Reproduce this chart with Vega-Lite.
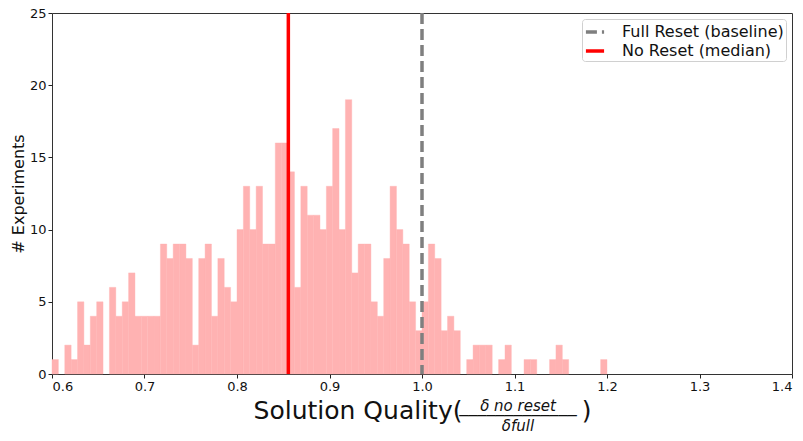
{
  "$schema": "https://vega.github.io/schema/vega-lite/v6.json",
  "width": 740,
  "height": 361,
  "autosize": {"type": "none"},
  "padding": {"left": 52, "top": 13, "right": 11, "bottom": 67},
  "background": "white",
  "config": {
    "font": "DejaVu Sans",
    "view": {"stroke": "#333333", "strokeWidth": 1},
    "axis": {
      "domain": false,
      "grid": false,
      "tickColor": "#222222",
      "tickSize": 4,
      "tickWidth": 1,
      "labelColor": "#111111",
      "labelFont": "DejaVu Sans",
      "labelFontSize": 13,
      "labelPadding": 2,
      "titleFont": "DejaVu Sans",
      "titleColor": "#111111",
      "titleFontWeight": "normal"
    },
    "legend": {
      "orient": "top-right",
      "offset": 6,
      "padding": 2,
      "strokeColor": "#d0d0d0",
      "fillColor": "white",
      "cornerRadius": 3,
      "labelFont": "DejaVu Sans",
      "labelFontSize": 16,
      "labelColor": "#111111",
      "labelOffset": 16,
      "labelLimit": 400,
      "symbolType": "stroke",
      "symbolSize": 330,
      "symbolStrokeWidth": 3.5,
      "rowPadding": 0
    },
    "title": {"font": "DejaVu Sans"}
  },
  "title": {
    "text": ["δ no reset", "─────────────", "δfull"],
    "orient": "bottom",
    "frame": "group",
    "anchor": "middle",
    "fontSize": 15,
    "fontStyle": "italic",
    "fontWeight": "normal",
    "color": "#111111",
    "lineHeight": 10,
    "offset": -24,
    "dx": 96
  },
  "datasets": {
    "bins": [
      {"x0": 0.6, "x1": 0.6069, "count": 1},
      {"x0": 0.6138, "x1": 0.6207, "count": 2},
      {"x0": 0.6207, "x1": 0.6276, "count": 1},
      {"x0": 0.6276, "x1": 0.6345, "count": 5},
      {"x0": 0.6345, "x1": 0.6414, "count": 2},
      {"x0": 0.6414, "x1": 0.6483, "count": 4},
      {"x0": 0.6483, "x1": 0.6552, "count": 5},
      {"x0": 0.6621, "x1": 0.669, "count": 6},
      {"x0": 0.669, "x1": 0.6759, "count": 4},
      {"x0": 0.6759, "x1": 0.6828, "count": 5},
      {"x0": 0.6828, "x1": 0.6897, "count": 7},
      {"x0": 0.6897, "x1": 0.6966, "count": 4},
      {"x0": 0.6966, "x1": 0.7034, "count": 4},
      {"x0": 0.7034, "x1": 0.7103, "count": 4},
      {"x0": 0.7103, "x1": 0.7172, "count": 4},
      {"x0": 0.7172, "x1": 0.7241, "count": 9},
      {"x0": 0.7241, "x1": 0.731, "count": 8},
      {"x0": 0.731, "x1": 0.7379, "count": 9},
      {"x0": 0.7379, "x1": 0.7448, "count": 9},
      {"x0": 0.7448, "x1": 0.7517, "count": 8},
      {"x0": 0.7517, "x1": 0.7586, "count": 2},
      {"x0": 0.7586, "x1": 0.7655, "count": 8},
      {"x0": 0.7655, "x1": 0.7724, "count": 9},
      {"x0": 0.7724, "x1": 0.7793, "count": 4},
      {"x0": 0.7793, "x1": 0.7862, "count": 8},
      {"x0": 0.7862, "x1": 0.7931, "count": 6},
      {"x0": 0.7931, "x1": 0.8, "count": 5},
      {"x0": 0.8, "x1": 0.8069, "count": 10},
      {"x0": 0.8069, "x1": 0.8138, "count": 13},
      {"x0": 0.8138, "x1": 0.8207, "count": 10},
      {"x0": 0.8207, "x1": 0.8276, "count": 13},
      {"x0": 0.8276, "x1": 0.8345, "count": 9},
      {"x0": 0.8345, "x1": 0.8414, "count": 9},
      {"x0": 0.8414, "x1": 0.8483, "count": 16},
      {"x0": 0.8483, "x1": 0.8552, "count": 16},
      {"x0": 0.8552, "x1": 0.8621, "count": 14},
      {"x0": 0.8621, "x1": 0.869, "count": 6},
      {"x0": 0.869, "x1": 0.8759, "count": 13},
      {"x0": 0.8759, "x1": 0.8828, "count": 11},
      {"x0": 0.8828, "x1": 0.8897, "count": 11},
      {"x0": 0.8897, "x1": 0.8966, "count": 10},
      {"x0": 0.8966, "x1": 0.9034, "count": 13},
      {"x0": 0.9034, "x1": 0.9103, "count": 17},
      {"x0": 0.9103, "x1": 0.9172, "count": 10},
      {"x0": 0.9172, "x1": 0.9241, "count": 19},
      {"x0": 0.9241, "x1": 0.931, "count": 7},
      {"x0": 0.931, "x1": 0.9379, "count": 9},
      {"x0": 0.9379, "x1": 0.9448, "count": 9},
      {"x0": 0.9448, "x1": 0.9517, "count": 5},
      {"x0": 0.9517, "x1": 0.9586, "count": 4},
      {"x0": 0.9586, "x1": 0.9655, "count": 8},
      {"x0": 0.9655, "x1": 0.9724, "count": 13},
      {"x0": 0.9724, "x1": 0.9793, "count": 10},
      {"x0": 0.9793, "x1": 0.9862, "count": 9},
      {"x0": 0.9862, "x1": 0.9931, "count": 5},
      {"x0": 0.9931, "x1": 1.0, "count": 3},
      {"x0": 1.0, "x1": 1.0069, "count": 5},
      {"x0": 1.0069, "x1": 1.0138, "count": 9},
      {"x0": 1.0138, "x1": 1.0207, "count": 8},
      {"x0": 1.0207, "x1": 1.0276, "count": 3},
      {"x0": 1.0276, "x1": 1.0345, "count": 4},
      {"x0": 1.0345, "x1": 1.0414, "count": 3},
      {"x0": 1.0483, "x1": 1.0552, "count": 1},
      {"x0": 1.0552, "x1": 1.0621, "count": 2},
      {"x0": 1.0621, "x1": 1.069, "count": 2},
      {"x0": 1.069, "x1": 1.0759, "count": 2},
      {"x0": 1.0828, "x1": 1.0897, "count": 1},
      {"x0": 1.0897, "x1": 1.0966, "count": 2},
      {"x0": 1.1103, "x1": 1.1172, "count": 1},
      {"x0": 1.1172, "x1": 1.1241, "count": 1},
      {"x0": 1.1379, "x1": 1.1448, "count": 1},
      {"x0": 1.1448, "x1": 1.1517, "count": 2},
      {"x0": 1.1517, "x1": 1.1586, "count": 1},
      {"x0": 1.1931, "x1": 1.2, "count": 1}
    ],
    "lines": [
      {"x": 1.0, "label": "Full Reset (baseline)"},
      {"x": 0.8555, "label": "No Reset (median)"}
    ]
  },
  "layer": [
    {
      "data": {"name": "bins"},
      "mark": {"type": "rect", "color": "#ffb2b2", "stroke": "#ffb2b2", "strokeWidth": 0.4},
      "encoding": {
        "x": {
          "field": "x0",
          "type": "quantitative",
          "scale": {"domain": [0.6, 1.4], "nice": false, "zero": false},
          "axis": {
            "values": [0.6, 0.7, 0.8, 0.9, 1.0, 1.1, 1.2, 1.3, 1.4],
            "format": ".1f",
            "title": "Solution Quality(\u00a0\u00a0\u00a0\u00a0\u00a0\u00a0\u00a0\u00a0\u00a0\u00a0\u00a0\u00a0\u00a0\u00a0\u00a0)",
            "titleFontSize": 25,
            "titlePadding": 5
          }
        },
        "x2": {"field": "x1"},
        "y": {
          "field": "count",
          "type": "quantitative",
          "scale": {"domain": [0, 25], "nice": false},
          "axis": {
            "values": [0, 5, 10, 15, 20, 25],
            "title": "# Experiments",
            "titleFontSize": 16,
            "titlePadding": 3
          }
        },
        "y2": {"datum": 0}
      }
    },
    {
      "data": {"name": "lines"},
      "mark": {"type": "rule", "strokeWidth": 3.5},
      "encoding": {
        "x": {"field": "x", "type": "quantitative"},
        "color": {
          "field": "label",
          "type": "nominal",
          "scale": {"domain": ["Full Reset (baseline)", "No Reset (median)"], "range": ["#7f7f7f", "#ff0000"]},
          "legend": {"title": null}
        },
        "strokeDash": {
          "field": "label",
          "type": "nominal",
          "scale": {"domain": ["Full Reset (baseline)", "No Reset (median)"], "range": [[11, 5], [1, 0]]},
          "legend": {"title": null}
        }
      }
    }
  ]
}
